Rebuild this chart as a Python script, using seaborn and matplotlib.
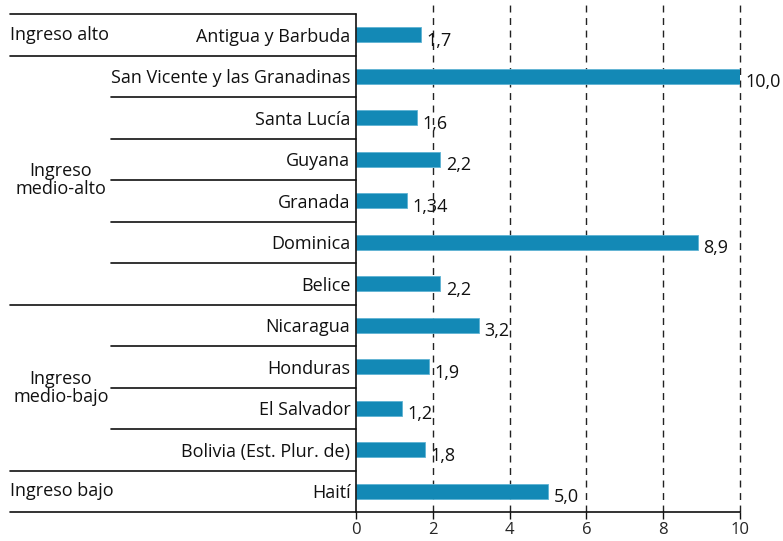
import matplotlib
matplotlib.use("Agg")
import matplotlib.pyplot as plt
import seaborn as sns
import pandas as pd

countries = ["Antigua y Barbuda", "San Vicente y las Granadinas", "Santa Lucía", "Guyana",
             "Granada", "Dominica", "Belice", "Nicaragua", "Honduras", "El Salvador",
             "Bolivia (Est. Plur. de)", "Haití"]
values = [1.7, 10.0, 1.6, 2.2, 1.34, 8.9, 2.2, 3.2, 1.9, 1.2, 1.8, 5.0]
value_labels = ["1,7", "10,0", "1,6", "2,2", "1,34", "8,9", "2,2", "3,2", "1,9", "1,2", "1,8", "5,0"]
groups = ["Ingreso alto", "Ingreso\nmedio-alto", "Ingreso\nmedio-bajo", "Ingreso bajo"]
group_sizes = [1, 6, 4, 1]
xticks = [0, 2, 4, 6, 8, 10]

sns.set_theme(style="white")
plt.rcParams["font.family"] = ["Open Sans", "DejaVu Sans"]

df = pd.DataFrame({"country": countries, "value": values})

fig = plt.figure(figsize=(7.83, 5.41), dpi=100)
ax = fig.add_axes([356/783, 1 - 512/541, 384/783, 512/541])

sns.barplot(data=df, x="value", y="country", orient="h", color="#1389b6",
            saturation=1, width=0.36, edgecolor="#5fb3d3", linewidth=0.6, ax=ax, zorder=3)

n = len(countries)
row_px = 498 / n
top_extra = 14 / row_px
ax.set_ylim(n - 0.5, -0.5 - top_extra)
ax.set_xlim(0, 10)

for x in xticks[1:]:
    ax.axvline(x, color="#222222", lw=1.0, ls=(0, (5, 4)), zorder=1, clip_on=False)

for s in ["top", "right", "left"]:
    ax.spines[s].set_visible(False)
ax.spines["bottom"].set_color("#111111")
ax.spines["bottom"].set_linewidth(1.2)
ax.plot([0, 0], [-0.5, n - 0.5], color="#111111", lw=1.2, clip_on=False, zorder=4)

ax.set_xticks(xticks)
ax.set_xticklabels([str(t) for t in xticks], fontsize=12)
ax.tick_params(axis="x", direction="out", length=5, width=1, color="#111111", pad=2,
               bottom=True)
ax.tick_params(axis="y", length=0, pad=4, labelsize=13)
ax.set_xlabel("")
ax.set_ylabel("")
for lab in ax.get_yticklabels():
    lab.set_color("#111111")

for i, (v, t) in enumerate(zip(values, value_labels)):
    ax.text(v + 0.14, i + 0.14, t, va="center", ha="left", fontsize=13, color="#111111",
            clip_on=False, zorder=5)

trans = ax.get_yaxis_transform()
x_group = (10 - 356) / 384
x_country = (111 - 356) / 384
x_glabel = (61 - 356) / 384
x_glabel_left = (10 - 356) / 384
start = 0
boundaries = [-0.5]
for gs in group_sizes:
    start += gs
    boundaries.append(start - 0.5)
for b in boundaries:
    ax.plot([x_group, 0], [b, b], color="#111111", lw=1.2, transform=trans, clip_on=False)
for k in range(n + 1):
    b = k - 0.5
    if b not in boundaries:
        ax.plot([x_country, 0], [b, b], color="#111111", lw=1.2, transform=trans, clip_on=False)

start = 0
for g, gs in zip(groups, group_sizes):
    mid = start + (gs - 1) / 2
    if "\n" in g:
        ax.text(x_glabel, mid, g, transform=trans, ha="center", va="center", fontsize=13,
                color="#111111", linespacing=1.0)
    else:
        ax.text(x_glabel_left, mid, g, transform=trans, ha="left", va="center", fontsize=13,
                color="#111111")
    start += gs

fig.savefig("out.png", dpi=100)
